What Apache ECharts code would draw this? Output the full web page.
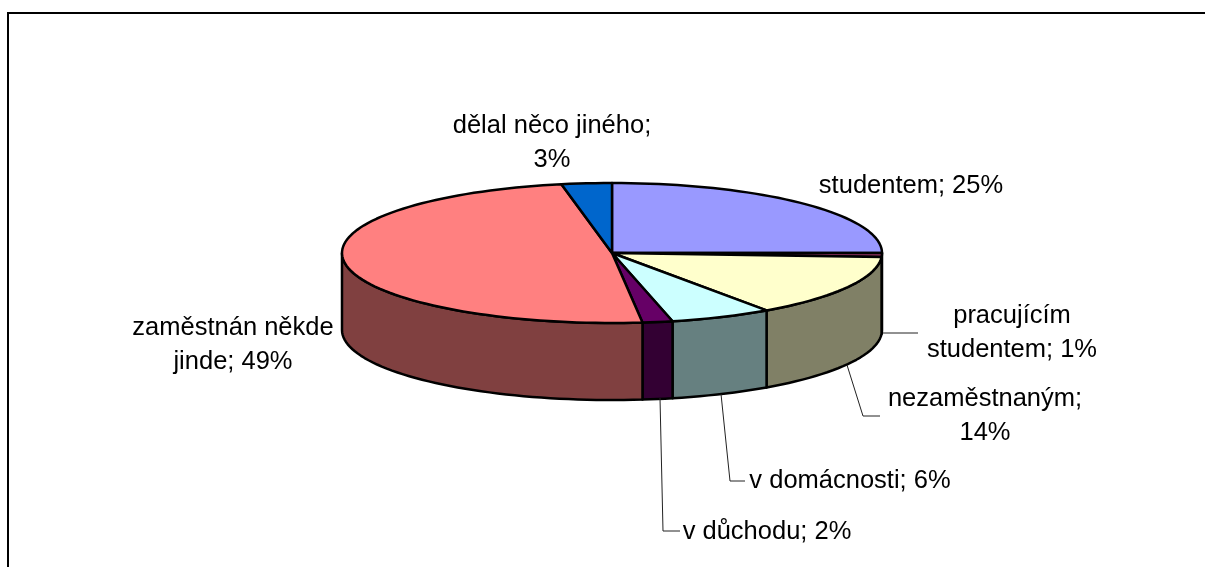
<!DOCTYPE html>
<html>
<head>
<meta charset="utf-8">
<style>
  html, body { margin: 0; padding: 0; background: #fff; }
  #chart { width: 1205px; height: 567px; }
</style>
<script src="https://cdn.jsdelivr.net/npm/echarts@6/dist/echarts.min.js"></script>
</head>
<body>
<div id="chart"></div>
<script>
// data, shares (the printed labels are rounded)
const names = ["studentem", "pracujícím studentem", "nezaměstnaným", "v domácnosti", "v důchodu", "zaměstnán někde jinde", "dělal něco jiného"];
const shares = [25, 0.9, 14.4, 6.1, 1.8, 48.8, 3];
const labelLines = [
    ["studentem; 25%"],
    ["pracujícím", "studentem; 1%"],
    ["nezaměstnaným;", "14%"],
    ["v domácnosti; 6%"],
    ["v důchodu; 2%"],
    ["zaměstnán někde", "jinde; 49%"],
    ["dělal něco jiného;", "3%"]
];
const topColors = ["#9999FF", "#993366", "#FFFFCC", "#CCFFFF", "#660066", "#FF8080", "#0066CC"];
const sideColors = ["#4C4C80", "#4C1933", "#808066", "#668080", "#330033", "#804040", "#003366"];

// layout of the flattened pie, in pixels
const CX = 612, CY = 253, RX = 270, RY = 70, DEPTH = 77;
const FONT_SIZE = 25.5, LINE_H = 33.5;
const labelPos = [
    { x: 911, y: 186, align: "center" },
    { x: 1012, y: 316, align: "center" },
    { x: 985, y: 399, align: "center" },
    { x: 850, y: 481, align: "center" },
    { x: 767, y: 532, align: "center" },
    { x: 233, y: 328, align: "center" },
    { x: 552, y: 126, align: "center" }
];
const leaders = [
    null,
    [[883, 333], [918, 333]],
    [[847, 365], [863, 416], [880, 416]],
    [[721, 394], [730, 481], [745, 481]],
    [[660, 398], [663, 531], [680, 531]],
    null,
    null
];

const total = shares.reduce((a, b) => a + b, 0);
let running = 0;
const sliceData = shares.map((v, i) => {
    const row = { name: names[i], value: [running / total * 360, (running + v) / total * 360] };
    running += v;
    return row;
});

const pt = (deg, dy) => {
    const t = deg * Math.PI / 180;
    return [CX + RX * Math.sin(t), CY - RY * Math.cos(t) + (dy || 0)];
};

const arc = (from, to, dy) => {
    const out = [];
    const n = Math.max(1, Math.ceil(Math.abs(to - from) / 2));
    for (let i = 0; i <= n; i++) {
        out.push(pt(from + (to - from) * i / n, dy));
    }
    return out;
};

// side wall, only the part of the rim facing the viewer
const renderWall = (params, api) => {
    const a = Math.max(api.value(0), 90);
    const b = Math.min(api.value(1), 270);
    if (b <= a) return null;
    return {
        type: "polygon",
        shape: { points: arc(a, b, 0).concat(arc(b, a, DEPTH)) },
        style: { fill: sideColors[params.dataIndex], stroke: "#000", lineWidth: 2.5, lineJoin: "round" }
    };
};

const renderTop = (params, api) => ({
    type: "polygon",
    shape: { points: [[CX, CY]].concat(arc(api.value(0), api.value(1), 0)) },
    style: { fill: topColors[params.dataIndex], stroke: "#000", lineWidth: 2.5, lineJoin: "round" }
});

const renderLabel = (params) => {
    const i = params.dataIndex;
    const p = labelPos[i];
    const children = labelLines[i].map((line, k) => ({
        type: "text",
        style: {
            x: p.x,
            y: p.y + k * LINE_H,
            text: line,
            fill: "#000",
            font: FONT_SIZE + 'px "Liberation Sans", Arial, sans-serif',
            textAlign: p.align,
            textVerticalAlign: "middle"
        }
    }));
    if (leaders[i]) {
        children.push({
            type: "polyline",
            shape: { points: leaders[i] },
            style: { fill: null, stroke: "#222", lineWidth: 1 }
        });
    }
    return { type: "group", children };
};

const chart = echarts.init(document.getElementById("chart"), null, { renderer: "canvas" });

chart.setOption({
    animation: false,
    backgroundColor: "#fff",
    tooltip: { show: false },
    graphic: [
        {
            type: "polyline",
            silent: true,
            shape: { points: [[8, 567], [8, 13], [1205, 13]] },
            style: { fill: null, stroke: "#000", lineWidth: 2 }
        }
    ],
    series: [
        { type: "custom", coordinateSystem: "none", silent: true, z: 1, data: sliceData, renderItem: renderWall },
        { type: "custom", coordinateSystem: "none", silent: true, z: 2, data: sliceData, renderItem: renderTop },
        { type: "custom", coordinateSystem: "none", silent: true, z: 3, data: sliceData, renderItem: renderLabel }
    ]
});
</script>
</body>
</html>
